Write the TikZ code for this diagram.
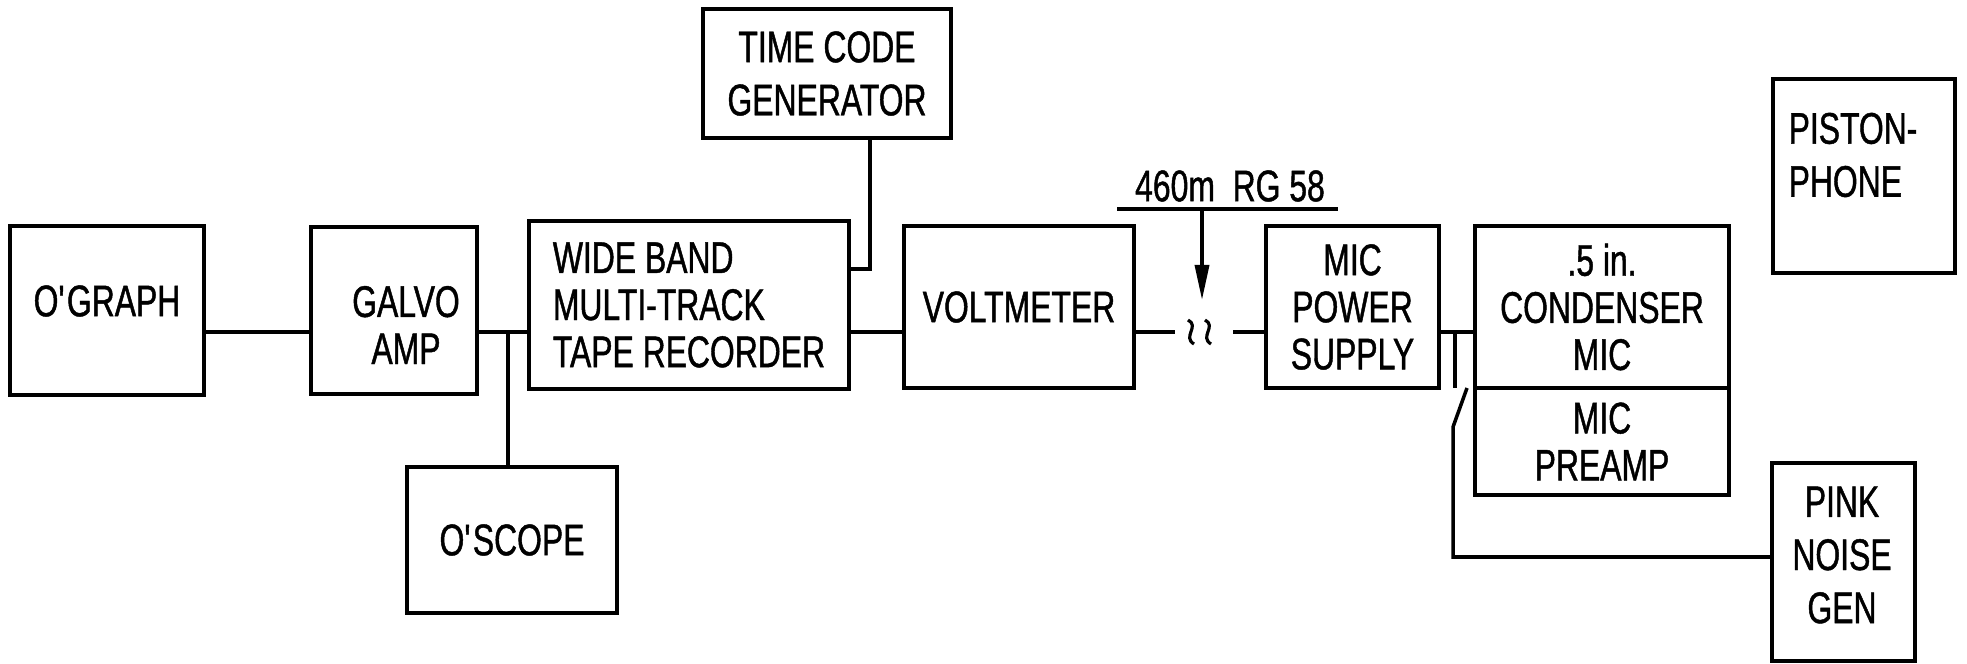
\documentclass[tikz,border=0pt]{standalone}
\usepackage{fontspec}
\setmainfont{Liberation Sans}[FakeStretch=0.72,FakeBold=1]
\usetikzlibrary{arrows.meta}

\begin{document}
\begin{tikzpicture}[x=0.1mm,y=-0.1mm,line width=1pt,
    every node/.style={font=\fontsize{12.6}{13.4}\selectfont},
    blk/.style={draw,line width=1pt,inner sep=0pt,align=center},
    lbl/.style={inner sep=0pt,align=center},
    wide/.style={font=\fontsize{12.6}{15.1}\selectfont}]
    \useasboundingbox (0,0) rectangle (1967,664);
    % recording chain
    \node[blk,minimum width=19.4mm,minimum height=16.9mm] (ograph) at (107,310.5) {};
    \node[lbl] (ographtxt) at (107,301) {O\textquotesingle GRAPH};
    \node[blk,minimum width=16.6mm,minimum height=16.7mm] (galvo) at (394,310.5) {};
    \node[lbl] (galvotxt) at (406,325) {GALVO\\AMP};
    \node[blk,align=left,minimum width=32mm,minimum height=16.8mm] (tape) at (689,305) {WIDE BAND\\MULTI-TRACK\\TAPE RECORDER};
    \node[blk,wide,minimum width=24.8mm,minimum height=12.9mm] (tcg) at (827,73.5) {TIME CODE\\GENERATOR};
    \node[blk,minimum width=21mm,minimum height=14.6mm] (oscope) at (512,540) {O\textquotesingle SCOPE};
    \node[blk,minimum width=23mm,minimum height=16.2mm] (volt) at (1019,307) {VOLTMETER};
    \node[blk,minimum width=17.3mm,minimum height=16.2mm] (mps) at (1352.5,307) {MIC\\POWER\\SUPPLY};
    \node[blk,minimum width=25.4mm,minimum height=16.2mm] (cond) at (1602,307) {.5 in.\\CONDENSER\\MIC};
    \node[blk,minimum width=25.4mm,minimum height=10.7mm] (preamp) at (1602,441.5) {MIC\\PREAMP};
    % calibration sources
    \node[blk,minimum width=18.2mm,minimum height=19.4mm] (piston) at (1864,176) {};
    \node[lbl,wide,align=left] (pistontxt) at (1853,155) {PISTON-\\PHONE};
    \node[blk,minimum width=14.3mm,minimum height=19.8mm] (pink) at (1843.5,562) {};
    \node[lbl,wide] (pinktxt) at (1842,555) {PINK\\NOISE\\GEN};
    \node[lbl] (cable) at (1230,186) {460m~~RG 58};
    % connections
    \coordinate (tap) at (508,332);
    \coordinate (tcgdrop) at (870,269);
    \draw (ograph.east |- tap) -- (galvo.west |- tap);
    \draw (galvo.east |- tap) -- (tape.west |- tap);
    \draw (tap) -- (oscope.north -| tap);
    \draw (tcgdrop |- tcg.south) -- (tcgdrop) -- (tape.east |- tcgdrop);
    \draw (tape.east |- tap) -- (volt.west |- tap);
    \coordinate (cutl) at (1175,332); \coordinate (cutr) at (1233,332);
    \draw (volt.east |- cutl) -- (cutl);
    \draw (cutr) -- (mps.west |- cutr);
    \foreach \sx in {1191,1208}
      \draw[line width=.9pt] (\sx-3,320) .. controls (\sx+9,326) and (\sx-9,337) .. (\sx+3,344);
    \coordinate (ulw) at (1117,209); \coordinate (ule) at (1338,209);
    \coordinate (arrtop) at (1202,209); \coordinate (arrtip) at (1202,300);
    \draw (ulw) -- (ule);
    \draw[-{Triangle[length=3.5mm,width=1.4mm]}] (arrtop) -- (arrtip);
    % switch to pink noise
    \coordinate (sw) at (1455,332); \coordinate (swa) at (1455,388);
    \coordinate (swb) at (1467,388); \coordinate (swc) at (1453,427);
    \coordinate (noise) at (1453,557);
    \draw (mps.east |- sw) -- (cond.west |- sw);
    \draw (sw) -- (swa);
    \draw (swb) -- (swc) -- (noise) -- (pink.west |- noise);
\end{tikzpicture}
\end{document}
